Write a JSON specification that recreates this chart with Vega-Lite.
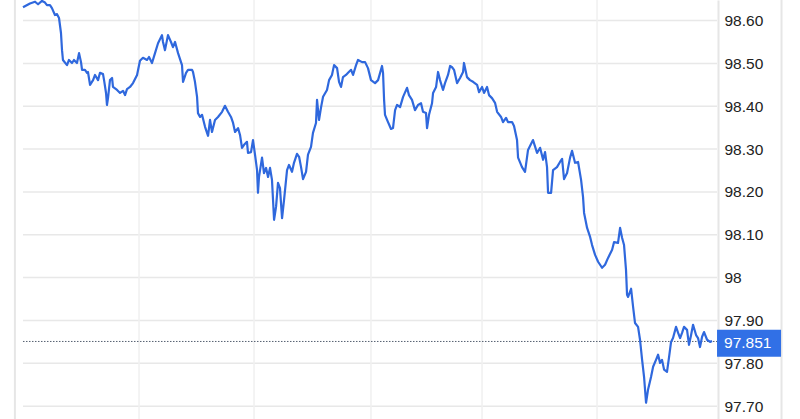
{
  "$schema": "https://vega.github.io/schema/vega-lite/v6.json",
  "width": 768,
  "height": 419,
  "autosize": {"type": "none"},
  "padding": {"left": 14, "top": 0, "right": 18, "bottom": 0},
  "background": "white",
  "config": {"view": {"stroke": null}, "font": "Liberation Sans"},
  "datasets": {
    "price": [
      {"t":0,"v":98.631},{"t":0.060,"v":98.640},{"t":0.104,"v":98.644},{"t":0.130,"v":98.638},{"t":0.164,"v":98.646},{"t":0.190,"v":98.642},{"t":0.207,"v":98.636},{"t":0.233,"v":98.636},{"t":0.250,"v":98.629},{"t":0.276,"v":98.613},
      {"t":0.294,"v":98.615},{"t":0.311,"v":98.606},{"t":0.328,"v":98.571},{"t":0.337,"v":98.531},{"t":0.345,"v":98.508},{"t":0.380,"v":98.496},{"t":0.397,"v":98.508},{"t":0.423,"v":98.501},{"t":0.440,"v":98.508},{"t":0.466,"v":98.501},
      {"t":0.484,"v":98.524},{"t":0.501,"v":98.503},{"t":0.510,"v":98.485},{"t":0.535,"v":98.485},{"t":0.553,"v":98.478},{"t":0.561,"v":98.480},{"t":0.579,"v":98.450},{"t":0.605,"v":98.461},{"t":0.622,"v":98.473},{"t":0.648,"v":98.461},
      {"t":0.665,"v":98.478},{"t":0.691,"v":98.475},{"t":0.700,"v":98.461},{"t":0.717,"v":98.431},{"t":0.725,"v":98.403},{"t":0.734,"v":98.419},{"t":0.751,"v":98.461},{"t":0.769,"v":98.466},{"t":0.777,"v":98.445},{"t":0.812,"v":98.438},
      {"t":0.838,"v":98.431},{"t":0.864,"v":98.436},{"t":0.881,"v":98.426},{"t":0.898,"v":98.440},{"t":0.924,"v":98.445},{"t":0.950,"v":98.454},{"t":0.985,"v":98.473},{"t":1.010,"v":98.506},{"t":1.036,"v":98.513},{"t":1.071,"v":98.508},
      {"t":1.088,"v":98.515},{"t":1.114,"v":98.501},{"t":1.140,"v":98.524},{"t":1.166,"v":98.547},{"t":1.200,"v":98.566},{"t":1.209,"v":98.550},{"t":1.226,"v":98.531},{"t":1.252,"v":98.566},{"t":1.278,"v":98.550},{"t":1.295,"v":98.538},
      {"t":1.313,"v":98.550},{"t":1.339,"v":98.524},{"t":1.373,"v":98.496},{"t":1.382,"v":98.457},{"t":1.408,"v":98.478},{"t":1.425,"v":98.485},{"t":1.460,"v":98.485},{"t":1.468,"v":98.480},{"t":1.485,"v":98.457},{"t":1.503,"v":98.422},
      {"t":1.511,"v":98.384},{"t":1.529,"v":98.375},{"t":1.546,"v":98.380},{"t":1.572,"v":98.352},{"t":1.598,"v":98.331},{"t":1.615,"v":98.368},{"t":1.632,"v":98.340},{"t":1.658,"v":98.368},{"t":1.684,"v":98.375},{"t":1.719,"v":98.387},
      {"t":1.744,"v":98.401},{"t":1.770,"v":98.387},{"t":1.796,"v":98.375},{"t":1.814,"v":98.361},{"t":1.831,"v":98.340},{"t":1.857,"v":98.349},{"t":1.874,"v":98.333},{"t":1.891,"v":98.303},{"t":1.909,"v":98.310},{"t":1.934,"v":98.317},
      {"t":1.943,"v":98.291},{"t":1.969,"v":98.293},{"t":1.986,"v":98.321},{"t":2.004,"v":98.286},{"t":2.021,"v":98.251},{"t":2.029,"v":98.198},{"t":2.038,"v":98.235},{"t":2.064,"v":98.280},{"t":2.081,"v":98.244},{"t":2.099,"v":98.256},
      {"t":2.116,"v":98.235},{"t":2.133,"v":98.256},{"t":2.150,"v":98.228},{"t":2.168,"v":98.135},{"t":2.185,"v":98.165},{"t":2.202,"v":98.221},{"t":2.219,"v":98.209},{"t":2.237,"v":98.139},{"t":2.254,"v":98.181},{"t":2.280,"v":98.251},
      {"t":2.297,"v":98.263},{"t":2.323,"v":98.247},{"t":2.340,"v":98.268},{"t":2.366,"v":98.289},{"t":2.384,"v":98.282},{"t":2.401,"v":98.258},{"t":2.418,"v":98.230},{"t":2.444,"v":98.247},{"t":2.461,"v":98.287},{"t":2.487,"v":98.305},
      {"t":2.504,"v":98.338},{"t":2.530,"v":98.361},{"t":2.539,"v":98.415},{"t":2.556,"v":98.368},{"t":2.574,"v":98.398},{"t":2.591,"v":98.422},{"t":2.625,"v":98.438},{"t":2.643,"v":98.461},{"t":2.668,"v":98.473},{"t":2.686,"v":98.496},
      {"t":2.712,"v":98.489},{"t":2.729,"v":98.457},{"t":2.746,"v":98.445},{"t":2.763,"v":98.468},{"t":2.789,"v":98.473},{"t":2.807,"v":98.478},{"t":2.833,"v":98.485},{"t":2.850,"v":98.473},{"t":2.876,"v":98.496},{"t":2.893,"v":98.508},
      {"t":2.928,"v":98.503},{"t":2.954,"v":98.503},{"t":2.979,"v":98.489},{"t":3.005,"v":98.461},{"t":3.040,"v":98.454},{"t":3.066,"v":98.461},{"t":3.100,"v":98.494},{"t":3.109,"v":98.478},{"t":3.118,"v":98.415},{"t":3.126,"v":98.380},
      {"t":3.152,"v":98.363},{"t":3.178,"v":98.347},{"t":3.195,"v":98.349},{"t":3.213,"v":98.391},{"t":3.230,"v":98.403},{"t":3.256,"v":98.398},{"t":3.282,"v":98.422},{"t":3.316,"v":98.443},{"t":3.333,"v":98.426},{"t":3.359,"v":98.415},
      {"t":3.385,"v":98.391},{"t":3.411,"v":98.403},{"t":3.437,"v":98.407},{"t":3.454,"v":98.387},{"t":3.480,"v":98.384},{"t":3.489,"v":98.349},{"t":3.506,"v":98.380},{"t":3.532,"v":98.407},{"t":3.541,"v":98.431},{"t":3.567,"v":98.445},
      {"t":3.584,"v":98.480},{"t":3.601,"v":98.461},{"t":3.627,"v":98.438},{"t":3.644,"v":98.454},{"t":3.670,"v":98.473},{"t":3.688,"v":98.494},{"t":3.705,"v":98.491},{"t":3.722,"v":98.485},{"t":3.748,"v":98.454},{"t":3.774,"v":98.466},
      {"t":3.800,"v":98.480},{"t":3.808,"v":98.501},{"t":3.834,"v":98.468},{"t":3.860,"v":98.461},{"t":3.886,"v":98.457},{"t":3.921,"v":98.450},{"t":3.938,"v":98.433},{"t":3.964,"v":98.445},{"t":3.981,"v":98.431},{"t":4.007,"v":98.445},
      {"t":4.024,"v":98.426},{"t":4.050,"v":98.419},{"t":4.076,"v":98.408},{"t":4.094,"v":98.387},{"t":4.128,"v":98.375},{"t":4.145,"v":98.363},{"t":4.171,"v":98.373},{"t":4.188,"v":98.363},{"t":4.223,"v":98.363},{"t":4.240,"v":98.354},
      {"t":4.266,"v":98.321},{"t":4.275,"v":98.280},{"t":4.309,"v":98.258},{"t":4.335,"v":98.247},{"t":4.361,"v":98.298},{"t":4.404,"v":98.321},{"t":4.439,"v":98.291},{"t":4.465,"v":98.303},{"t":4.491,"v":98.275},{"t":4.508,"v":98.293},
      {"t":4.525,"v":98.258},{"t":4.534,"v":98.198},{"t":4.560,"v":98.198},{"t":4.577,"v":98.251},{"t":4.611,"v":98.258},{"t":4.637,"v":98.270},{"t":4.655,"v":98.277},{"t":4.672,"v":98.230},{"t":4.698,"v":98.244},{"t":4.724,"v":98.280},
      {"t":4.741,"v":98.296},{"t":4.767,"v":98.268},{"t":4.793,"v":98.270},{"t":4.819,"v":98.228},{"t":4.836,"v":98.188},{"t":4.845,"v":98.151},{"t":4.871,"v":98.116},{"t":4.897,"v":98.095},{"t":4.914,"v":98.076},{"t":4.940,"v":98.053},
      {"t":4.966,"v":98.037},{"t":5.000,"v":98.023},{"t":5.026,"v":98.030},{"t":5.052,"v":98.046},{"t":5.087,"v":98.065},{"t":5.104,"v":98.083},{"t":5.138,"v":98.081},{"t":5.156,"v":98.116},{"t":5.173,"v":98.093},{"t":5.190,"v":98.076},
      {"t":5.207,"v":98.018},{"t":5.216,"v":97.960},{"t":5.225,"v":97.955},{"t":5.251,"v":97.974},{"t":5.268,"v":97.932},{"t":5.285,"v":97.894},{"t":5.311,"v":97.885},{"t":5.328,"v":97.855},{"t":5.346,"v":97.808},{"t":5.363,"v":97.768},
      {"t":5.380,"v":97.708},{"t":5.397,"v":97.738},{"t":5.423,"v":97.768},{"t":5.441,"v":97.792},{"t":5.466,"v":97.808},{"t":5.484,"v":97.820},{"t":5.501,"v":97.801},{"t":5.518,"v":97.808},{"t":5.536,"v":97.785},{"t":5.561,"v":97.780},
      {"t":5.579,"v":97.815},{"t":5.596,"v":97.850},{"t":5.613,"v":97.859},{"t":5.639,"v":97.885},{"t":5.657,"v":97.871},{"t":5.674,"v":97.859},{"t":5.691,"v":97.871},{"t":5.708,"v":97.885},{"t":5.734,"v":97.878},{"t":5.751,"v":97.843},
      {"t":5.769,"v":97.866},{"t":5.786,"v":97.890},{"t":5.812,"v":97.866},{"t":5.829,"v":97.859},{"t":5.846,"v":97.838},{"t":5.864,"v":97.862},{"t":5.881,"v":97.873},{"t":5.907,"v":97.855},{"t":5.933,"v":97.850},{"t":5.950,"v":97.852}
    ],
    "hgrid": [{"v":97.7},{"v":97.8},{"v":97.9},{"v":98.0},{"v":98.1},{"v":98.2},{"v":98.3},{"v":98.4},{"v":98.5},{"v":98.6}],
    "vgrid": [{"t":1.002},{"t":1.995},{"t":3.005},{"t":3.964},{"t":4.957}],
    "borders": [{"t":-0.07},{"t":6.55}],
    "last": [{"v":97.851,"label":"97.851"}]
  },
  "layer": [
    {
      "data": {"name": "hgrid"},
      "mark": {"type": "rule", "color": "#e8e8e8", "strokeWidth": 1.5},
      "encoding": {
        "y": {"field": "v", "type": "quantitative", "scale": {"domain": [97.670, 98.648], "nice": false, "zero": false},
              "axis": {"orient": "right", "offset": -64, "values": [97.7,97.8,97.9,98,98.1,98.2,98.3,98.4,98.5,98.6],
                       "labelExpr": "datum.value == 98 ? '98' : format(datum.value, '.2f')",
                       "labelAlign": "left", "labelPadding": 6, "labelFontSize": 15.5, "labelColor": "#222222",
                       "labelFont": "Liberation Sans", "ticks": false, "grid": false, "title": null,
                       "domain": true, "domainColor": "#e6e6e6", "domainWidth": 2, "labelBaseline": "middle"}},
        "x": {"datum": 0, "type": "quantitative", "scale": {"domain": [-0.0777, 6.554], "nice": false, "zero": false}, "axis": null},
        "x2": {"datum": 5.993}
      }
    },
    {
      "data": {"name": "vgrid"},
      "mark": {"type": "rule", "color": "#f0f0f0", "strokeWidth": 1.5},
      "encoding": {"x": {"field": "t", "type": "quantitative"}}
    },
    {
      "data": {"name": "borders"},
      "mark": {"type": "rule", "color": "#e6e6e6", "strokeWidth": 2},
      "encoding": {"x": {"field": "t", "type": "quantitative"}}
    },
    {
      "data": {"name": "last"},
      "mark": {"type": "rule", "color": "#556070", "strokeWidth": 1, "strokeDash": [1.5, 1.5]},
      "encoding": {
        "y": {"field": "v", "type": "quantitative"},
        "x": {"datum": 0, "type": "quantitative"},
        "x2": {"datum": 5.993}
      }
    },
    {
      "data": {"name": "price"},
      "mark": {"type": "line", "color": "#2f68dd", "strokeWidth": 2.2, "strokeJoin": "round"},
      "encoding": {
        "x": {"field": "t", "type": "quantitative"},
        "y": {"field": "v", "type": "quantitative"}
      }
    },
    {
      "data": {"name": "last"},
      "mark": {"type": "point", "filled": true, "opacity": 1, "color": "#3170e6", "size": 4096,
               "shape": "M0,-0.3625L2,-0.3625L2,0.481L0,0.481Z"},
      "encoding": {
        "x": {"datum": 5.993, "type": "quantitative"},
        "y": {"field": "v", "type": "quantitative"}
      }
    },
    {
      "data": {"name": "last"},
      "mark": {"type": "text", "color": "white", "fontSize": 15.5, "font": "Liberation Sans", "align": "left", "baseline": "middle", "dx": 7, "dy": 2},
      "encoding": {
        "x": {"datum": 5.993, "type": "quantitative"},
        "y": {"field": "v", "type": "quantitative"},
        "text": {"field": "label"}
      }
    }
  ]
}
